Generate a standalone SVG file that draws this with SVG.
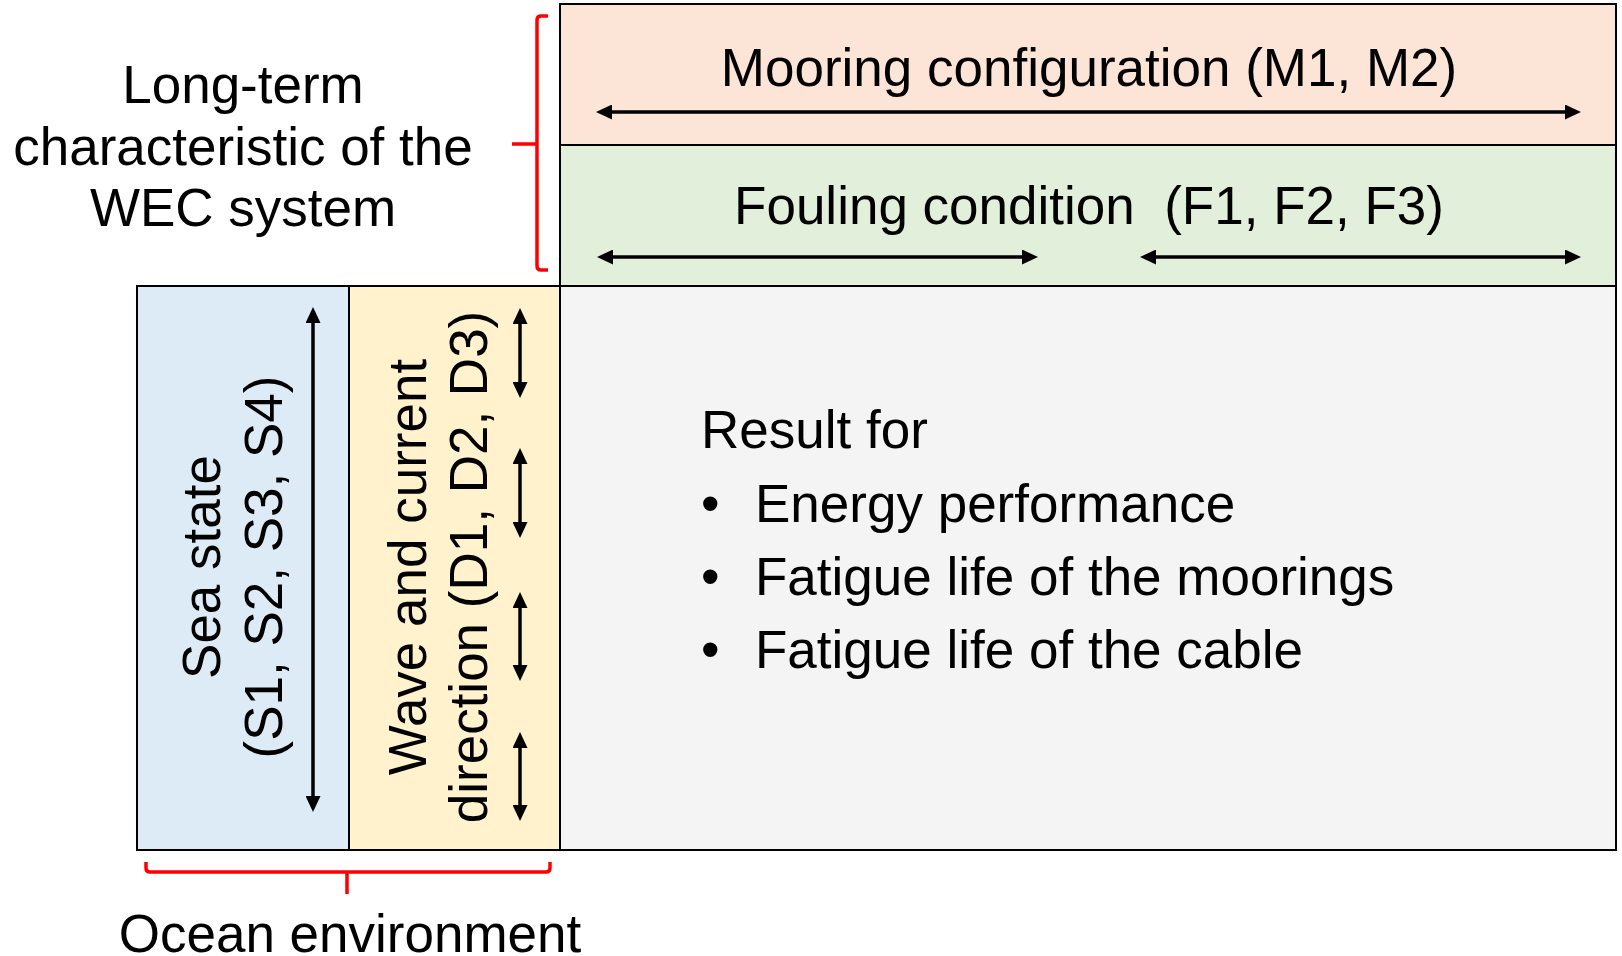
<svg xmlns="http://www.w3.org/2000/svg" width="1622" height="956" viewBox="0 0 1622 956">
<style>
text{font-family:"Liberation Sans",Arial,sans-serif;fill:#000;font-size:53px}
.box{stroke:#000;stroke-width:2}
.arr{stroke:#000;stroke-width:3.5;fill:none;marker-start:url(#ah);marker-end:url(#ah)}
.brace{stroke:#ff0000;stroke-width:3.5;fill:none}
</style>
<defs>
<marker id="ah" viewBox="0 0 16 15" refX="0" refY="7.5" markerWidth="16" markerHeight="15" markerUnits="userSpaceOnUse" orient="auto-start-reverse">
<path d="M0,0 L16,7.5 L0,15 z" fill="#000"/>
</marker>
</defs>
<rect width="1622" height="956" fill="#fff"/>
<g id="mooring">
<rect class="box" x="560" y="4" width="1056" height="141" fill="#FCE4D6"/>
<text x="1089" y="86" text-anchor="middle">Mooring configuration (M1, M2)</text>
</g>
<g id="fouling">
<rect class="box" x="560" y="145" width="1056" height="141" fill="#E2EFDA"/>
<text x="1089" y="224" text-anchor="middle" xml:space="preserve">Fouling condition  (F1, F2, F3)</text>
</g>
<g id="result">
<rect class="box" x="560" y="286" width="1056" height="564" fill="#F4F4F4"/>
<text x="701" y="448">Result for</text>
<text x="701" y="522">•</text><text x="755" y="522">Energy performance</text>
<text x="701" y="595">•</text><text x="755" y="595">Fatigue life of the moorings</text>
<text x="701" y="668">•</text><text x="755" y="668">Fatigue life of the cable</text>
</g>
<g id="seastate">
<rect class="box" x="137" y="286" width="212" height="564" fill="#DDEBF7"/>
<text transform="translate(220,567) rotate(-90)" text-anchor="middle">Sea state</text>
<text transform="translate(282,567) rotate(-90)" text-anchor="middle">(S1, S2, S3, S4)</text>
</g>
<g id="direction">
<rect class="box" x="349" y="286" width="211" height="564" fill="#FFF2CC"/>
<text transform="translate(426,567) rotate(-90)" text-anchor="middle">Wave and current</text>
<text transform="translate(487,567) rotate(-90)" text-anchor="middle">direction (D1, D2, D3)</text>
</g>
<g id="longterm-label">
<path class="brace" d="M548,16 L541,16 Q537,16 537,20 L537,266 Q537,270 541,270 L548,270 M512,144 L537,144"/>
<text x="243" y="103" text-anchor="middle">Long-term</text>
<text x="243" y="165" text-anchor="middle">characteristic of the</text>
<text x="243" y="226" text-anchor="middle">WEC system</text>
</g>
<g id="ocean-label">
<path class="brace" d="M146,862 L146,868 Q146,872 150,872 L546,872 Q550,872 550,868 L550,862 M347,872 L347,894"/>
<text x="350" y="952" text-anchor="middle">Ocean environment</text>
</g>
<g id="connectors">
<line class="arr" x1="612" y1="112" x2="1565" y2="112"/>
<line class="arr" x1="613" y1="257" x2="1022" y2="257"/>
<line class="arr" x1="1156" y1="257" x2="1565" y2="257"/>
<line class="arr" x1="313" y1="323" x2="313" y2="796"/>
<line class="arr" x1="520" y1="324" x2="520" y2="382"/>
<line class="arr" x1="520" y1="464" x2="520" y2="522"/>
<line class="arr" x1="520" y1="608" x2="520" y2="665"/>
<line class="arr" x1="520" y1="748" x2="520" y2="805"/>
</g>
</svg>
